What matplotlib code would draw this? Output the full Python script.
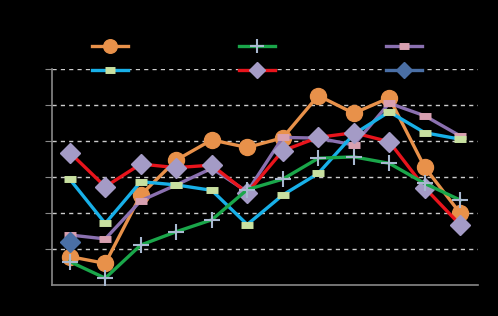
import numpy as np
import matplotlib
matplotlib.use("Agg")
import matplotlib.pyplot as plt

# twelve categories, values in grid units (0-6)
x = np.arange(12)
orange = [0.79, 0.60, 2.50, 3.47, 4.03, 3.82, 4.09, 5.26, 4.77, 5.20, 3.27, 1.99]
green = [0.65, 0.19, 1.11, 1.48, 1.81, 2.65, 2.94, 3.52, 3.56, 3.38, 2.82, 2.36]
purple = [1.39, 1.28, 2.34, 2.78, 3.24, 2.59, 4.10, 4.08, 3.89, 5.05, 4.70, 4.14]
cyan = [2.94, 1.71, 2.87, 2.78, 2.63, 1.68, 2.50, 3.10, 4.19, 4.81, 4.23, 4.05]
red = [3.68, 2.73, 3.36, 3.26, 3.33, 2.56, 3.73, 4.10, 4.23, 3.98, 2.70, 1.67]
steel = [1.20] + [np.nan] * 11

fig = plt.figure(figsize=(4.98, 3.16), dpi=100, facecolor='black')
ax = fig.add_axes([52 / 498, 31 / 316, 426 / 498, 216 / 316], facecolor='black')

lw = 2.4
h_orange, = ax.plot(x, orange, color='#e8914a', lw=lw, marker='o', ms=11.5,
                    mfc='#e8914a', mec='#e8914a', zorder=3)
h_green, = ax.plot(x, green, color='#1aa64a', lw=lw, marker='+', ms=12, mew=1.5,
                   mec='#a8b8d0', zorder=4)
h_purple, = ax.plot(x, purple, color='#8a70b0', lw=lw, marker='_', ms=9, mew=5,
                    mec='#d8a0b0', zorder=3)
h_cyan, = ax.plot(x, cyan, color='#18b0e8', lw=lw, marker='_', ms=9, mew=5,
                  mec='#c8e0a0', zorder=3)
h_red, = ax.plot(x, red, color='#e8141c', lw=lw, marker='D', ms=10,
                 mfc='#a49bc6', mec='#a49bc6', zorder=3)
h_steel, = ax.plot(x, steel, color='#4a6fa5', lw=lw, marker='D', ms=10,
                   mfc='#4a6fa5', mec='#4a6fa5', zorder=3)

ax.set_xlim(-0.5, 11.5)
ax.set_ylim(0, 6)
ax.set_yticks(np.arange(1, 7))
ax.set_xticks([])
ax.tick_params(axis='y', length=5, color='#888888', labelleft=False)
ax.yaxis.grid(True, color='#cccccc', ls=(0, (3, 3)), lw=1)
ax.set_axisbelow(True)
for side in ['top', 'right']:
    ax.spines[side].set_visible(False)
ax.spines['left'].set_color('#888888')
ax.spines['bottom'].set_color('#888888')
ax.spines['left'].set_linewidth(1.2)
ax.spines['bottom'].set_linewidth(1.2)

handles = [h_orange, h_cyan, h_green, h_red, h_purple, h_steel]
leg = fig.legend(handles, [' '] * 6, ncol=3, loc='upper left',
                 bbox_to_anchor=(79 / 498, 1 - 27 / 316), frameon=False,
                 handlelength=2.6, columnspacing=6.9, labelspacing=0.75,
                 markerscale=0.85, labelcolor='black')

fig.savefig("out.png", dpi=100, facecolor='black')
